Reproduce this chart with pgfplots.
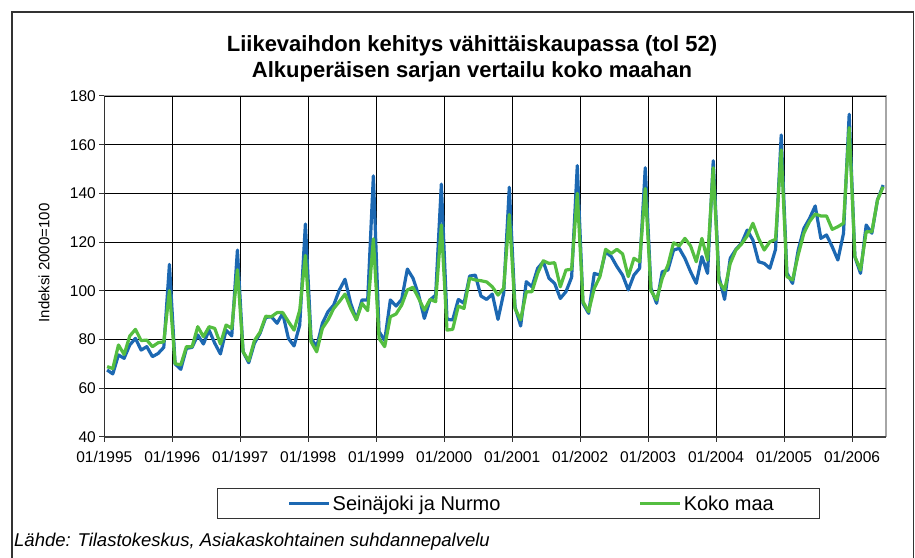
\documentclass[border=0pt]{standalone}
\usepackage{fontspec}
\setmainfont{Liberation Sans}
\usepackage{pgfplots}
\usepackage{pgfplotstable}
\pgfplotsset{compat=1.18}

\definecolor{sblue}{RGB}{28,104,178}
\definecolor{kgreen}{RGB}{84,190,64}

% m = month index from 01/1995, s = Seinäjoki ja Nurmo, k = Koko maa
\pgfplotstableread{
m s k
0 67.4 68.8
1 65.8 68.0
2 73.6 77.7
3 72.2 73.8
4 77.7 81.4
5 80.4 84.1
6 75.6 79.5
7 77.0 79.7
8 72.9 77.0
9 74.2 78.6
10 76.7 79.0
11 110.8 100.0
12 69.9 70.0
13 67.7 69.5
14 76.3 77.0
15 76.7 77.0
16 81.8 85.2
17 78.1 81.1
18 83.8 85.2
19 78.4 84.5
20 74.0 78.1
21 83.8 85.9
22 81.4 84.5
23 116.7 108.6
24 74.9 74.9
25 70.4 71.2
26 78.4 79.5
27 82.5 83.0
28 89.0 89.5
29 89.3 89.3
30 86.6 91.0
31 90.7 91.0
32 80.4 87.3
33 77.3 83.8
34 85.9 92.0
35 127.4 114.5
36 80.4 79.0
37 77.0 74.9
38 86.6 84.5
39 91.4 88.0
40 94.1 92.7
41 100.3 95.5
42 104.7 98.6
43 94.8 92.7
44 88.2 88.0
45 96.2 94.8
46 96.2 91.8
47 147.2 121.3
48 83.2 80.4
49 79.5 77.0
50 96.2 89.3
51 93.7 90.4
52 96.4 94.1
53 108.9 100.3
54 105.1 101.4
55 98.2 96.8
56 88.6 92.0
57 96.2 96.4
58 98.2 95.5
59 143.8 127.0
60 88.2 83.8
61 88.0 84.1
62 96.4 93.7
63 94.8 92.7
64 106.0 105.1
65 106.4 104.4
66 97.8 104.1
67 96.4 103.6
68 98.6 101.6
69 88.2 98.2
70 98.9 101.0
71 142.5 131.3
72 93.4 92.7
73 85.5 88.0
74 103.7 99.6
75 101.6 99.6
76 109.2 107.1
77 111.9 112.3
78 105.1 111.2
79 103.0 111.5
80 96.8 101.6
81 99.6 108.5
82 105.5 108.8
83 151.4 140.0
84 94.8 95.5
85 90.7 91.4
86 107.1 101.0
87 106.4 105.8
88 116.0 117.0
89 114.0 115.3
90 109.9 117.0
91 106.4 115.1
92 100.3 105.8
93 106.4 113.3
94 109.2 111.9
95 150.5 142.0
96 101.0 100.0
97 94.8 96.2
98 107.8 105.1
99 108.5 110.5
100 116.7 119.7
101 117.4 118.4
102 113.3 121.5
103 107.8 118.4
104 103.0 111.9
105 114.0 121.5
106 107.1 112.6
107 153.4 150.5
108 105.8 103.7
109 96.4 100.3
110 113.3 111.2
111 117.0 116.7
112 119.5 119.2
113 124.9 122.5
114 120.8 127.7
115 111.9 121.5
116 111.2 116.7
117 109.2 120.1
118 117.0 121.1
119 164.0 157.8
120 107.3 105.8
121 103.0 104.4
122 116.7 114.7
123 125.6 123.6
124 129.7 128.4
125 134.8 131.5
126 121.5 130.7
127 122.9 130.7
128 118.1 125.2
129 112.6 126.3
130 123.6 127.7
131 172.5 167.0
132 114.0 114.0
133 107.1 108.5
134 127.0 124.2
135 123.6 124.2
136 137.3 137.3
137 143.4 142.7
}\data

\begin{document}
\begin{tikzpicture}[x=1pt,y=1pt]
\useasboundingbox (0,0) rectangle (915,557);
\draw[line width=1.6pt, black!80] (11.7,-2) -- (11.7,545) -- (913.5,545) -- (913.5,-2);
\node[font=\bfseries\fontsize{22}{26}\selectfont, anchor=base] at (472,505) {Liikevaihdon kehitys vähittäiskaupassa (tol 52)};
\node[font=\bfseries\fontsize{22}{26}\selectfont, anchor=base] at (472,479) {Alkuperäisen sarjan vertailu koko maahan};
\node[rotate=90, font=\fontsize{15}{18}\selectfont] at (44,294) {Indeksi 2000=100};
\node[font=\itshape\fontsize{18.5}{22}\selectfont, anchor=base west, inner sep=0pt] at (14,11) {Lähde: Tilastokeskus, Asiakaskohtainen suhdannepalvelu};

\begin{axis}[
  at={(104.3pt,120.3pt)}, anchor=south west,
  scale only axis, width=781.7pt, height=340.7pt,
  xmin=-0.5, xmax=137.5, ymin=40, ymax=180,
  xtick={-0.5,11.5,...,131.5},
  xticklabels={01/1995,01/1996,01/1997,01/1998,01/1999,01/2000,01/2001,01/2002,01/2003,01/2004,01/2005,01/2006},
  ytick={40,60,...,180},
  axis background/.style={draw=black!35, line width=1.5pt},
  axis x line*=bottom, axis y line*=left,
  x axis line style={line width=2pt, black!75},
  y axis line style={line width=1.3pt, black!80},
  tick align=outside, major tick length=5pt,
  tick style={black!80, line width=1pt},
  grid=major, major grid style={black, line width=0.9pt},
  ticklabel style={font=\fontsize{15.5}{18}\selectfont},
  xticklabel style={yshift=-6pt},
  /pgf/number format/assume math mode=true,
  legend columns=2,
  legend style={at={(0.1442,-0.1506)}, anchor=north west, draw=black!80, line width=1pt,
    font=\fontsize{20}{24}\selectfont, inner xsep=44pt, inner ysep=5pt,
    /tikz/every even column/.append style={column sep=110pt}},
  legend image code/.code={\path (-26pt,0pt); \draw[#1] (0pt,0pt) -- (40pt,0pt);},
]
\addplot[sblue, line width=3.2pt, line join=round] table[x=m,y=s]{\data};
\addlegendentry{Seinäjoki ja Nurmo}
\addplot[kgreen, line width=3.2pt, line join=round] table[x=m,y=k]{\data};
\addlegendentry{Koko maa}
\end{axis}
\end{tikzpicture}
\end{document}
